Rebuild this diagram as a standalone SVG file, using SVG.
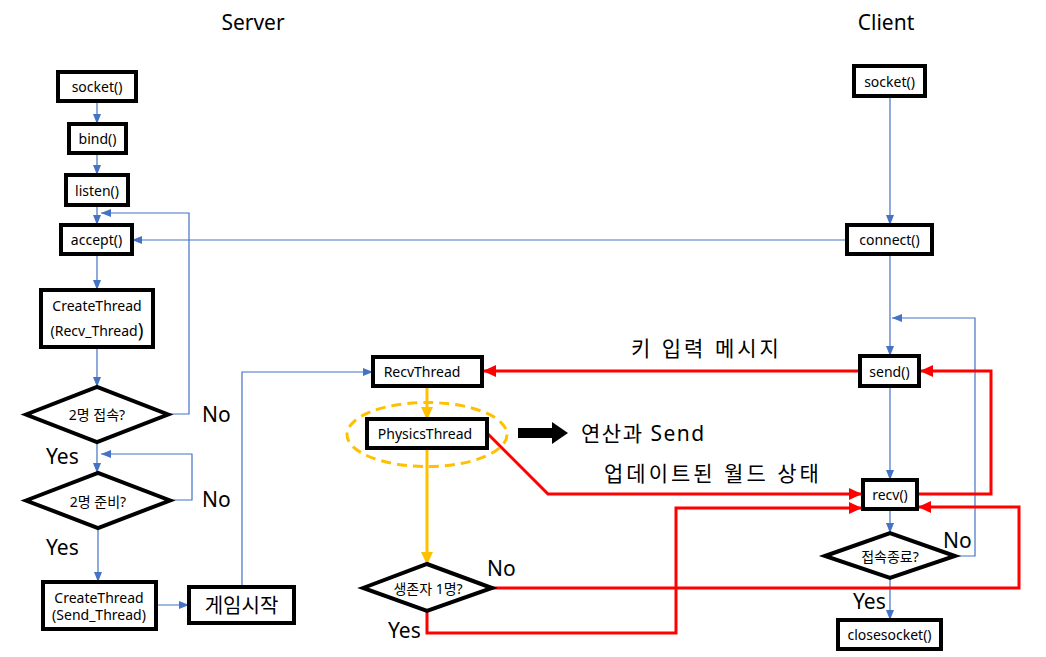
<svg xmlns="http://www.w3.org/2000/svg" width="1046" height="657" viewBox="0 0 1046 657">
<style>
.box{fill:#fff;stroke:#000;stroke-width:4}
.dia{fill:#fff;stroke:#000;stroke-width:4;stroke-linejoin:miter}
.t{font-family:"Noto Sans","Noto Sans CJK KR",sans-serif;font-size:14px;fill:#000;text-anchor:middle;dominant-baseline:central}
.big{font-family:"Noto Sans","Noto Sans CJK KR",sans-serif;font-size:21px;fill:#000}
.blue{fill:none;stroke:#4472C4;stroke-width:1.2}
.red{fill:none;stroke:#FF0000;stroke-width:3}
.org{fill:none;stroke:#FFC000;stroke-width:3}
</style>
<defs>
<marker id="ab" markerUnits="userSpaceOnUse" markerWidth="10" markerHeight="10" viewBox="0 0 10 10" refX="10" refY="5" orient="auto"><path d="M0,1 L10,5 L0,9 z" fill="#4472C4"/></marker>
<marker id="ar" markerUnits="userSpaceOnUse" markerWidth="14" markerHeight="14" viewBox="0 0 14 14" refX="12" refY="7" orient="auto"><path d="M0,1 L13,7 L0,13 z" fill="#FF0000"/></marker>
<marker id="ao" markerUnits="userSpaceOnUse" markerWidth="14" markerHeight="14" viewBox="0 0 14 14" refX="12" refY="7" orient="auto"><path d="M0,1 L13,7 L0,13 z" fill="#FFC000"/></marker>
</defs>
<rect width="1046" height="657" fill="#fff"/>
<text class="big" x="253" y="30" text-anchor="middle">Server</text>
<text class="big" x="886" y="30" text-anchor="middle">Client</text>

<g id="connectors">
<line class="blue" x1="97" y1="101" x2="97" y2="124" marker-end="url(#ab)"/>
<line class="blue" x1="97" y1="153" x2="97" y2="175" marker-end="url(#ab)"/>
<line class="blue" x1="97" y1="205" x2="97" y2="225" marker-end="url(#ab)"/>
<line class="blue" x1="97" y1="254" x2="97" y2="290" marker-end="url(#ab)"/>
<line class="blue" x1="97" y1="347" x2="97" y2="387" marker-end="url(#ab)"/>
<polyline class="blue" points="168,414 189,414 189,213 101,213" marker-end="url(#ab)"/>
<line class="blue" x1="97" y1="442" x2="97" y2="473" marker-end="url(#ab)"/>
<polyline class="blue" points="170,500 192,500 192,454 101,454" marker-end="url(#ab)"/>
<line class="blue" x1="98" y1="528" x2="98" y2="582" marker-end="url(#ab)"/>
<line class="blue" x1="156" y1="605" x2="189" y2="605" marker-end="url(#ab)"/>
<polyline class="blue" points="242,587 242,372 373,372" marker-end="url(#ab)"/>
<line class="blue" x1="847" y1="240" x2="132" y2="240" marker-end="url(#ab)"/>
<line class="blue" x1="890" y1="96" x2="890" y2="225" marker-end="url(#ab)"/>
<line class="blue" x1="890" y1="254" x2="890" y2="356" marker-end="url(#ab)"/>
<line class="blue" x1="890" y1="386" x2="890" y2="480" marker-end="url(#ab)"/>
<line class="blue" x1="890" y1="509" x2="890" y2="533" marker-end="url(#ab)"/>
<polyline class="blue" points="955,556 975,556 975,318 892,318" marker-end="url(#ab)"/>
<line class="blue" x1="890" y1="578" x2="890" y2="620" marker-end="url(#ab)"/>
<line class="org" x1="427" y1="386" x2="427" y2="419" marker-end="url(#ao)"/>
<line class="org" x1="427" y1="448" x2="427" y2="564" marker-end="url(#ao)"/>
<line class="red" x1="860" y1="371" x2="484" y2="371" marker-end="url(#ar)"/>
<polyline class="red" points="487,433 548,494 861,494" marker-end="url(#ar)"/>
<polyline class="red" points="917,494 991,494 991,371 921,371" marker-end="url(#ar)"/>
<polyline class="red" points="492,588 1019,588 1019,507 919,507" marker-end="url(#ar)"/>
<polyline class="red" points="427,611 427,633 676,633 676,508 861,508" marker-end="url(#ar)"/>
<path d="M518,428 H552 V422 L568,433 L552,444 V438 H518 z" fill="#000"/>
</g>

<g id="s_socket"><rect class="box" x="58" y="72" width="78" height="29"/><text class="t" x="97" y="86.5">socket()</text></g>
<g id="s_bind"><rect class="box" x="69" y="124" width="57" height="29"/><text class="t" x="97.5" y="138.5">bind()</text></g>
<g id="s_listen"><rect class="box" x="66" y="175" width="62" height="30"/><text class="t" x="97" y="190">listen()</text></g>
<g id="s_accept"><rect class="box" x="61" y="225" width="71" height="29"/><text class="t" x="96.5" y="239.5">accept()</text></g>
<g id="s_create_recv"><rect class="box" x="41" y="290" width="112" height="57"/><text class="t" x="97" y="305">CreateThread</text><text class="t" x="97" y="330">(Recv_Thread<tspan style="font-size:19px">)</tspan></text></g>
<g id="s_two_conn"><polygon class="dia" points="26,414.5 97,387 168,414.5 97,442"/><text class="t" x="97" y="414.5">2명 접속?</text></g>
<g id="s_two_ready"><polygon class="dia" points="26,500.5 98,473 170,500.5 98,528"/><text class="t" x="98" y="501">2명 준비?</text></g>
<g id="s_create_send"><rect class="box" x="43" y="582" width="113" height="47"/><text class="t" x="99" y="597">CreateThread</text><text class="t" x="99" y="614">(Send_Thread)</text></g>
<g id="s_game_start"><rect class="box" x="189" y="587" width="105" height="36"/><text class="t" x="241.5" y="605" style="font-size:20px">게임시작</text></g>

<g id="t_recv"><rect class="box" x="373" y="357" width="109" height="29"/><text class="t" x="422" y="371.5">RecvThread</text></g>
<g id="t_physics"><ellipse cx="427" cy="434.5" rx="80" ry="32" fill="none" stroke="#FFC000" stroke-width="3" stroke-dasharray="10,6"/><rect class="box" x="367" y="419" width="120" height="29"/><text class="t" x="425" y="433.5">PhysicsThread</text></g>
<g id="t_survivor"><polygon class="dia" points="363,588 427,564 492,588 427,611"/><text class="t" x="428" y="588">생존자 1명?</text></g>

<g id="c_socket"><rect class="box" x="854" y="66" width="71" height="30"/><text class="t" x="889.5" y="81">socket()</text></g>
<g id="c_connect"><rect class="box" x="847" y="225" width="85" height="29"/><text class="t" x="889.5" y="239.5">connect()</text></g>
<g id="c_send"><rect class="box" x="860" y="356" width="59" height="30"/><text class="t" x="889.5" y="371">send()</text></g>
<g id="c_recv"><rect class="box" x="863" y="480" width="54" height="29"/><text class="t" x="890" y="494.5">recv()</text></g>
<g id="c_quit"><polygon class="dia" points="825,556 890,533 955,556 890,578"/><text class="t" x="890" y="556">접속종료?</text></g>
<g id="c_close"><rect class="box" x="838" y="620" width="103" height="29"/><text class="t" x="889.5" y="634.5">closesocket()</text></g>

<g id="labels">
<text class="big" x="202" y="422">No</text>
<text class="big" x="46" y="464">Yes</text>
<text class="big" x="202" y="507">No</text>
<text class="big" x="46" y="555">Yes</text>
<text class="big" x="487" y="576">No</text>
<text class="big" x="388" y="638">Yes</text>
<text class="big" x="943" y="548">No</text>
<text class="big" x="853" y="609">Yes</text>
<text class="big" x="581" y="441" letter-spacing="1.5">연산과 Send</text>
<text class="big" x="631" y="356" letter-spacing="3">키 입력 메시지</text>
<text class="big" x="604" y="481" letter-spacing="3">업데이트된 월드 상태</text>
</g>
</svg>
